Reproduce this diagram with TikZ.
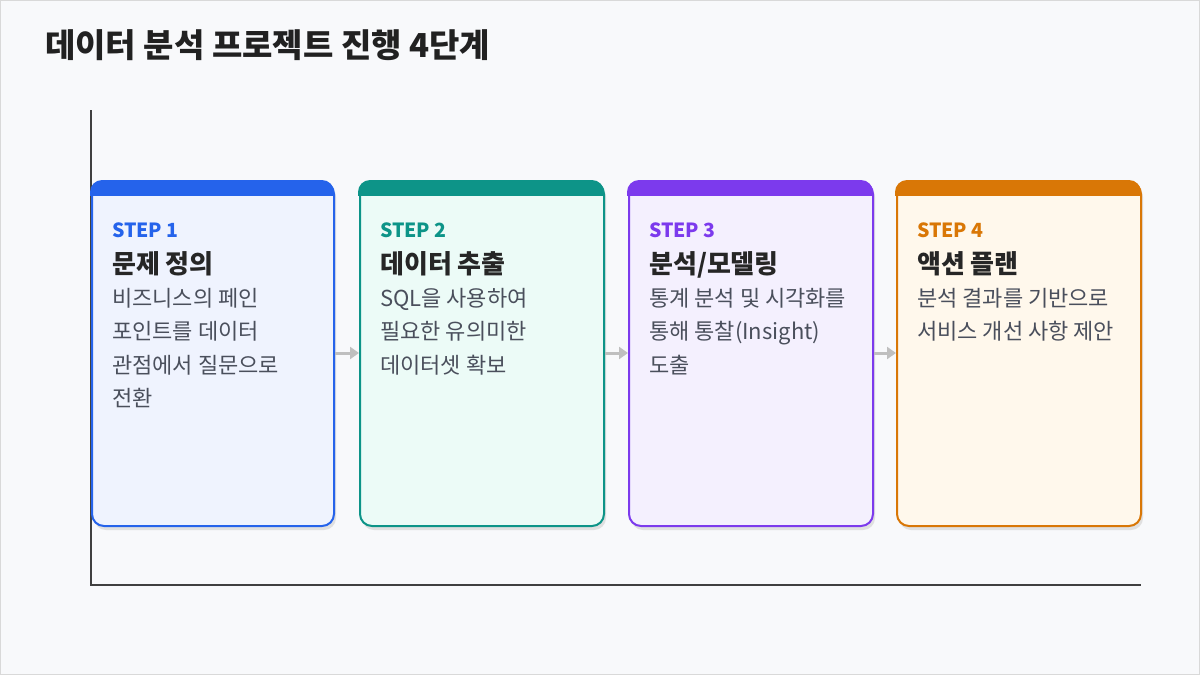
\documentclass[tikz,border=0pt]{standalone}
\usepackage{fontspec}
\setmainfont{Noto Sans CJK KR}
\usetikzlibrary{arrows.meta,shadows}
\definecolor{c1}{HTML}{2563EB}\definecolor{f1}{HTML}{EFF3FE}
\definecolor{c2}{HTML}{0D9488}\definecolor{f2}{HTML}{ECFBF7}
\definecolor{c3}{HTML}{7C3AED}\definecolor{f3}{HTML}{F4F0FE}
\definecolor{c4}{HTML}{D97706}\definecolor{f4}{HTML}{FFF8EC}
\definecolor{bg}{HTML}{F8F9FB}\definecolor{body}{HTML}{4A4F5C}
\begin{document}
\begin{tikzpicture}[x=1pt,y=-1pt,
 steplbl/.style={anchor=base west,inner sep=0,font=\fontsize{19.5}{19.5}\selectfont\bfseries},
 head/.style={anchor=base west,inner sep=0,font=\fontsize{26}{26}\selectfont\bfseries,text=black!85},
 bodyt/.style={anchor=north west,inner sep=0,align=left,font=\fontsize{22}{33.4}\selectfont,text=body},
 arr/.style={-{Triangle[length=9pt,width=12pt]},line width=3pt,draw=gray!50}]
\fill[bg] (0,0) rectangle (1200,675);
\draw[gray!30] (0.5,0.5) rectangle (1199.5,674.5);
\node[anchor=base west,inner sep=0,font=\fontsize{33}{33}\selectfont\bfseries,text=black!87] (title) at (45,57) {데이터 분석 프로젝트 진행 4단계};
\coordinate (ytop) at (91,110); \coordinate (org) at (91,585); \coordinate (xend) at (1141,585);
\draw[line width=1.3pt,black!75] (ytop) -- (org) -- (xend);
\foreach \i/\x/\w/\s/\h/\b in {
 1/91/242/{STEP 1}/{문제 정의}/{비즈니스의 페인\\포인트를 데이터\\관점에서 질문으로\\전환},
 2/359/244/{STEP 2}/{데이터 추출}/{SQL을 사용하여\\필요한 유의미한\\데이터셋 확보},
 3/628/244/{STEP 3}/{분석/모델링}/{통계 분석 및 시각화를\\통해 통찰(Insight)\\도출},
 4/896/244/{STEP 4}/{액션 플랜}/{분석 결과를 기반으로\\서비스 개선 사항 제안}}{
 \begin{scope}
 \fill[black!12,rounded corners=12pt] (\x+3,185) rectangle ++(\w,345);
 \node[draw=c\i,line width=2pt,fill=f\i,rounded corners=12pt,minimum width=\w pt,minimum height=344pt,anchor=north west,inner sep=0] (card\i) at (\x,181) {};
 \clip[rounded corners=12pt] (\x-1,180) rectangle ++(\w+2,346);
 \fill[c\i] (\x-1,180) rectangle ++(\w+2,16);
 \end{scope}
 \node[steplbl,text=c\i] (s\i) at (\x+21,237) {\s};
 \node[head] (h\i) at (\x+21,273) {\h};
 \node[bodyt] (b\i) at (\x+21,288) {\b};
}
\draw[arr] (card1.east |- 0,353) -- (card2.west |- 0,353);
\draw[arr] (card2.east |- 0,353) -- (card3.west |- 0,353);
\draw[arr] (card3.east |- 0,353) -- (card4.west |- 0,353);
\end{tikzpicture}
\end{document}
